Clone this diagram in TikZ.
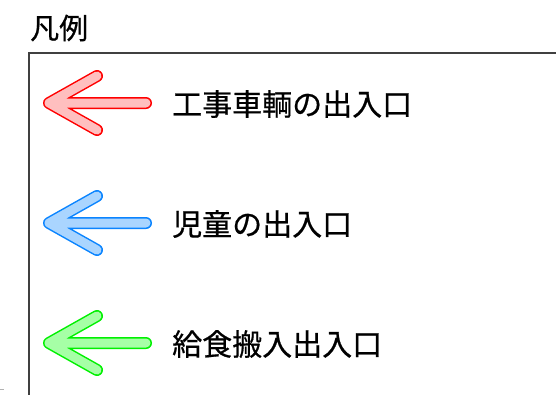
\documentclass[tikz,border=0pt]{standalone}
\usepackage{fontspec}
\newfontfamily\jpfont[FakeBold=0.6]{Noto Sans CJK JP}
\definecolor{redline}{HTML}{FF0000}
\definecolor{redfill}{HTML}{FFBFBF}
\definecolor{blueline}{HTML}{0A84FF}
\definecolor{bluefill}{HTML}{AAD5FF}
\definecolor{greenline}{HTML}{00F000}
\definecolor{greenfill}{HTML}{A6FFA6}
\definecolor{frame}{HTML}{404040}
\tikzset{
  outer/.style={line width=12pt, line cap=round, line join=round},
  inner/.style={line width=9pt, line cap=round, line join=round},
  label/.style={anchor=west, inner sep=0pt, font=\jpfont\fontsize{30}{31}\selectfont},
  title/.style={anchor=west, inner sep=0pt, font=\jpfont\fontsize{29}{30}\selectfont}
}
\newcommand{\legendarrow}[3]{%
  \draw[outer, #2] (97,#1-27) -- (49,#1) -- (97,#1+27) (49,#1) -- (146,#1);
  \draw[inner, #3] (97,#1-27) -- (49,#1) -- (97,#1+27) (49,#1) -- (146,#1);
}
\begin{document}
\begin{tikzpicture}[x=1pt,y=-1pt]
\useasboundingbox (0,0) rectangle (556,394);
\node[title] (ttl) at (30,28) {凡例};
\coordinate (tl) at (29,53);
\coordinate (tr) at (557,53);
\coordinate (bl) at (29,395);
\draw[frame, line width=1.2pt] (tr) -- (tl) -- (bl);
\draw[gray!60, line width=1pt] (0,389) -- (4,389);
\legendarrow{103}{redline}{redfill}
\legendarrow{223}{blueline}{bluefill}
\legendarrow{343}{greenline}{greenfill}
\node[label] (l1) at (172,104) {工事車輌の出入口};
\node[label] (l2) at (172,224) {児童の出入口};
\node[label] (l3) at (172,344) {給食搬入出入口};
\end{tikzpicture}
\end{document}
